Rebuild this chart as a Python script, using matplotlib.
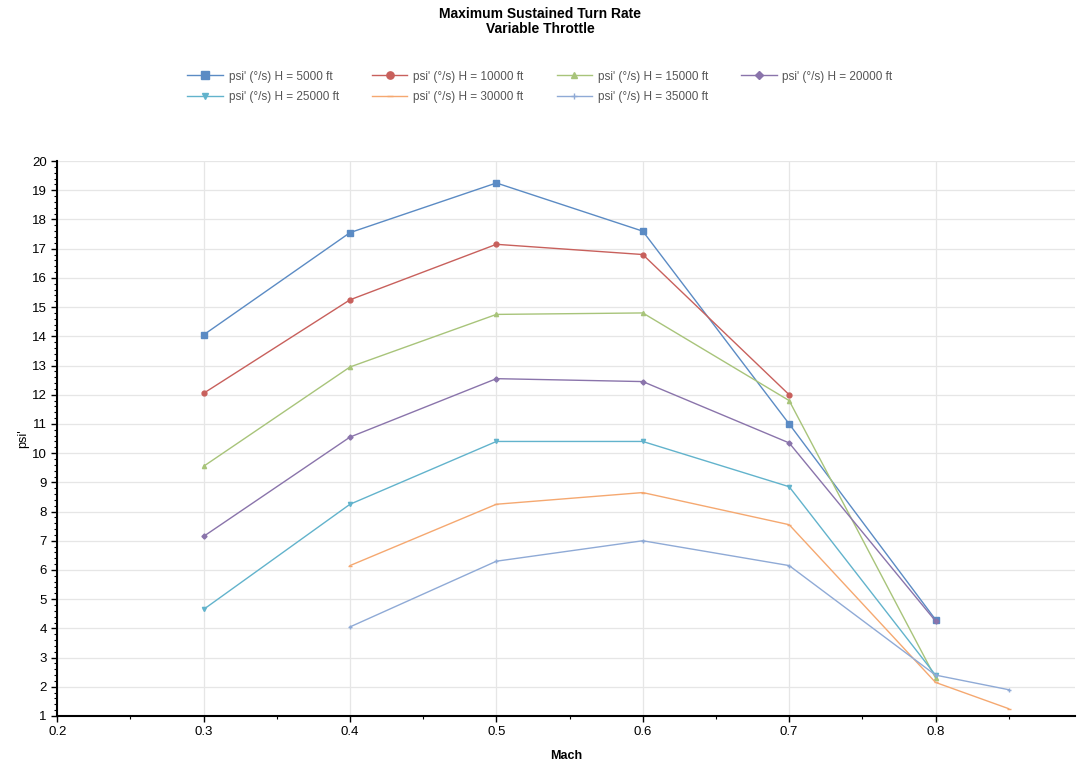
"""Maximum sustained turn rate vs Mach, variable throttle."""
import matplotlib

matplotlib.use("Agg")
import matplotlib.pyplot as plt  # noqa: E402
from matplotlib.ticker import MultipleLocator  # noqa: E402

plt.rcParams["font.family"] = ["Liberation Sans", "DejaVu Sans"]

# series values
altitudes = [5000, 10000, 15000, 20000, 25000, 30000, 35000]
mach_5k = [0.3, 0.4, 0.5, 0.6, 0.7, 0.8]
psi_5k = [14.05, 17.55, 19.25, 17.6, 11.0, 4.3]
mach_10k = [0.3, 0.4, 0.5, 0.6, 0.7]
psi_10k = [12.05, 15.25, 17.15, 16.8, 12.0]
mach_15k = [0.3, 0.4, 0.5, 0.6, 0.7, 0.8]
psi_15k = [9.55, 12.95, 14.75, 14.8, 11.8, 2.3]
mach_20k = [0.3, 0.4, 0.5, 0.6, 0.7, 0.8]
psi_20k = [7.15, 10.55, 12.55, 12.45, 10.35, 4.25]
mach_25k = [0.3, 0.4, 0.5, 0.6, 0.7, 0.8]
psi_25k = [4.65, 8.25, 10.4, 10.4, 8.85, 2.4]
mach_30k = [0.4, 0.5, 0.6, 0.7, 0.8, 0.85]
psi_30k = [6.15, 8.25, 8.65, 7.55, 2.15, 1.25]
mach_35k = [0.4, 0.5, 0.6, 0.7, 0.8, 0.85]
psi_35k = [4.05, 6.3, 7.0, 6.15, 2.4, 1.9]

x_ticks = [0.2, 0.3, 0.4, 0.5, 0.6, 0.7, 0.8]
y_ticks = list(range(1, 21))

series = [
    (mach_5k, psi_5k, "#5b8bc4", "s", 4),
    (mach_10k, psi_10k, "#c8605c", "o", 3.5),
    (mach_15k, psi_15k, "#a8c47a", "^", 3),
    (mach_20k, psi_20k, "#8a74ab", "D", 2.6),
    (mach_25k, psi_25k, "#62b3cc", "v", 3),
    (mach_30k, psi_30k, "#f5a870", "_", 3),
    (mach_35k, psi_35k, "#8faad6", "+", 3),
]

fig = plt.figure(figsize=(10.8, 7.67), dpi=100)
ax = fig.add_axes([0.053, 0.0665, 0.942, 0.7235])

handles = []
for (xs, ys, color, marker, ms), alt in zip(series, altitudes):
    (h,) = ax.plot(xs, ys, color=color, linewidth=1.0, marker=marker,
                   markersize=ms, label=f"psi' (°/s) H = {alt} ft")
    handles.append(h)

ax.set_xlim(0.2, 0.895)
ax.set_ylim(1, 20)
ax.set_xticks(x_ticks)
ax.set_yticks(y_ticks)
ax.xaxis.set_minor_locator(MultipleLocator(0.05))
ax.yaxis.set_minor_locator(MultipleLocator(0.2))
ax.grid(True, which="major", color="#e6e6e6", linewidth=0.9)
ax.set_axisbelow(True)
for side in ("top", "right"):
    ax.spines[side].set_visible(False)
for side in ("left", "bottom"):
    ax.spines[side].set_linewidth(1.5)
ax.tick_params(which="major", length=4, width=1, labelsize=9.5)
ax.tick_params(which="minor", length=2, width=0.8)
ax.set_xlabel("Mach", fontsize=9, fontweight="bold", labelpad=8)
ax.set_ylabel("psi'", fontsize=9, labelpad=2)

order = [0, 4, 1, 5, 2, 6, 3]
fig.legend([handles[i] for i in order], [handles[i].get_label() for i in order],
           loc="center", bbox_to_anchor=(0.5, 0.887), ncol=4, frameon=False,
           fontsize=8.5, labelcolor="#555555", handlelength=3.0,
           columnspacing=2.8, handletextpad=0.5, labelspacing=0.7,
           markerscale=1.5)

fig.text(0.5, 0.972, "Maximum Sustained Turn Rate\nVariable Throttle",
         ha="center", va="center", fontsize=10, fontweight="bold",
         linespacing=1.05)

fig.savefig("out.png", dpi=100)
plt.close(fig)
